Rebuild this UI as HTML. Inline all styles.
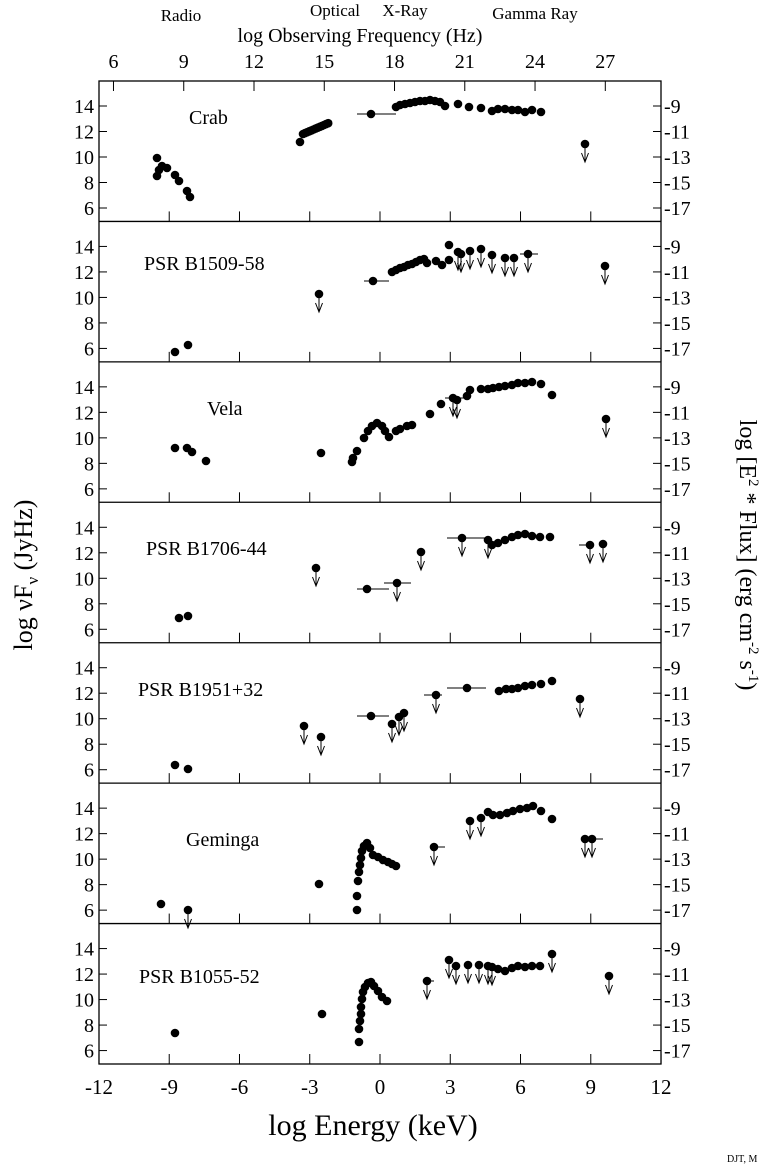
<!DOCTYPE html>
<html><head><meta charset="utf-8"><style>
html,body{margin:0;padding:0;background:#fff}
svg{display:block;font-family:"Liberation Serif",serif}
</style></head><body>
<svg id="s" width="767" height="1169" viewBox="0 0 767 1169" xmlns="http://www.w3.org/2000/svg">
<g font-size="17">
<text x="181" y="21" text-anchor="middle">Radio</text>
<text x="335" y="16" text-anchor="middle">Optical</text>
<text x="405" y="16" text-anchor="middle">X-Ray</text>
<text x="535" y="19" text-anchor="middle">Gamma Ray</text>
</g>
<text x="360" y="42" font-size="20" text-anchor="middle">log Observing Frequency (Hz)</text>
<text x="373" y="1135" font-size="30" text-anchor="middle">log Energy (keV)</text>
<text transform="translate(32,575) rotate(-90)" font-size="26" text-anchor="middle">log νF<tspan font-size="17" dy="6">ν</tspan><tspan dy="-6"> (JyHz)</tspan></text>
<text transform="translate(740,555) rotate(90)" font-size="24" text-anchor="middle">log [E<tspan font-size="15" dy="-9">2</tspan><tspan dy="9"> * Flux] (erg cm</tspan><tspan font-size="15" dy="-9">-2</tspan><tspan dy="9"> s</tspan><tspan font-size="15" dy="-9">-1</tspan><tspan dy="9">)</tspan></text>
<text x="727" y="1162" font-size="10">DJT, M</text>
<g id="g"></g>
</svg>
<script>
var g=document.getElementById('g'),h='';
var L=99,R=661,T=81,B=1064,PH=(B-T)/7;
function X(e){return 380+23.42*e}
h+='<rect x="'+L+'" y="'+T+'" width="'+(R-L)+'" height="'+(B-T)+'" fill="none" stroke="#000" stroke-width="1.3"/>';
for(var k=1;k<7;k++){var y=T+k*PH;h+='<line x1="'+L+'" x2="'+R+'" y1="'+y+'" y2="'+y+'" stroke="#000" stroke-width="1.3"/>';}
for(var e=-12;e<=12;e+=3){var x=X(e);h+='<text x="'+x+'" y="1094" font-size="21" text-anchor="middle">'+e+'</text>';
 for(var k=1;k<=7;k++){var y=T+k*PH;h+='<line x1="'+x+'" x2="'+x+'" y1="'+y+'" y2="'+(y-10)+'" stroke="#000"/>';}}
for(var f=6;f<=27;f+=3){var x=X(f-17.38);h+='<text x="'+x+'" y="68" font-size="20" text-anchor="middle">'+f+'</text><line x1="'+x+'" x2="'+x+'" y1="'+T+'" y2="'+(T+10)+'" stroke="#000"/>';}
for(var k=0;k<7;k++){var t=T+k*PH;
 for(var v=6;v<=14;v+=2){var y=t+25+(14-v)*12.75;
  h+='<line x1="'+L+'" x2="'+(L+8)+'" y1="'+y+'" y2="'+y+'" stroke="#000"/><line x1="'+(R-8)+'" x2="'+R+'" y1="'+y+'" y2="'+y+'" stroke="#000"/>';
  h+='<text x="'+(L-5)+'" y="'+(y+7)+'" font-size="20" text-anchor="end">'+v+'</text>';
  h+='<text x="'+(R+3)+'" y="'+(y+7)+'" font-size="20">'+(v-23)+'</text>';}}
var names=[["Crab",189,124],["PSR B1509-58",144,270],["Vela",207,415],["PSR B1706-44",146,555],["PSR B1951+32",138,696],["Geminga",186,846],["PSR B1055-52",139,983]];
names.forEach(function(n){h+='<text x="'+n[1]+'" y="'+n[2]+'" font-size="20">'+n[0]+'</text>';});
function P(a){a.forEach(function(p){h+='<circle cx="'+p[0]+'" cy="'+p[1]+'" r="4.3"/>';});}
function A(a){a.forEach(function(p){var x=p[0],y=p[1];h+='<circle cx="'+x+'" cy="'+y+'" r="4.3"/><path d="M'+x+' '+y+'V'+(y+17)+'M'+(x-3.5)+' '+(y+9)+'L'+x+' '+(y+18)+'L'+(x+3.5)+' '+(y+9)+'" fill="none" stroke="#000" stroke-width="1"/>';});}
function E(x1,x2,y){h+='<line x1="'+x1+'" x2="'+x2+'" y1="'+y+'" y2="'+y+'" stroke="#000"/>';}
// Crab
P([[157,158],[157,176],[159,170],[162,166],[167,168],[175,175],[179,181],[187,191],[190,197],[300,142]]);
for(var i=0;i<=12;i++)P([[303+i*2.1,134-i*0.9]]);
E(357,396,114);P([[371,114]]);
P([[396,107],[400,105],[405,104],[410,103],[415,102],[420,101],[425,101],[430,100],[435,101],[440,102],[445,106],[458,104],[469,107],[481,108],[492,111],[498,109],[505,109],[512,110],[518,110],[525,112],[532,110],[541,112]]);
A([[585,144]]);
// B1509
P([[175,352],[188,345]]);A([[319,294]]);E(364,389,281);P([[373,281]]);
P([[392,272],[396,270],[400,268],[404,267],[408,265],[412,264],[416,262],[420,260],[424,259],[427,263],[436,261],[442,265],[449,245],[449,260]]);
A([[458,252],[461,254],[470,251],[481,249],[492,255],[505,258],[514,258]]);E(520,538,254);A([[528,254],[605,266]]);
// Vela
P([[175,448],[187,448],[192,452],[206,461],[321,453]]);
P([[352,462],[353,458],[357,451],[364,438],[368,431],[372,426],[377,423],[382,426],[385,431],[389,437],[396,431],[400,429],[407,426],[412,425],[430,414],[441,404]]);
E(445,470,398);A([[453,398],[457,400]]);
P([[467,396],[470,390],[481,389],[488,389],[493,388],[499,387],[505,386],[512,385],[518,383],[525,383],[532,382],[541,384],[552,395]]);A([[606,419]]);
// B1706
P([[179,618],[188,616]]);A([[316,568]]);E(357,389,589);P([[367,589]]);E(384,411,583);A([[397,583],[421,552]]);
E(447,487,538);A([[462,538],[488,540]]);
P([[492,545],[498,543],[505,540],[512,537],[518,535],[525,534],[532,536],[540,537],[550,537]]);E(579,590,545);A([[590,545],[603,544]]);
// B1951
P([[175,765],[188,769]]);A([[304,726],[321,737]]);E(357,389,716);P([[371,716]]);A([[392,724],[399,717],[404,713]]);
E(424,442,695);A([[436,695]]);E(447,486,688);P([[467,688]]);
P([[499,691],[506,689],[512,689],[518,688],[525,686],[532,685],[541,684],[552,681]]);A([[580,699]]);
// Geminga
P([[161,904],[319,884]]);A([[188,910]]);
P([[357,910],[357,896],[358,881],[359,872],[360,865],[361,858],[362,851],[364,846],[367,843],[370,848],[373,855],[378,857],[383,860],[388,862],[392,864],[396,866]]);
E(434,445,847);A([[434,847],[470,821],[481,818]]);
P([[488,812],[493,815],[500,815],[507,813],[513,811],[520,809],[527,808],[533,806],[541,811],[552,819]]);
E(585,603,839);A([[585,839],[592,839]]);
// B1055
P([[175,1033],[322,1014]]);
P([[359,1042],[359,1029],[360,1021],[361,1014],[361,1007],[362,999],[363,992],[365,987],[368,983],[371,982],[374,986],[378,991],[382,997],[387,1001]]);
E(427,434,981);A([[427,981]]);
A([[449,960],[456,966],[468,965],[479,965],[488,966],[492,967]]);
P([[498,969],[505,971],[512,968],[518,966],[525,967],[532,966],[540,966]]);
A([[552,954],[609,976]]);
g.innerHTML=h;
</script>
</body></html>
